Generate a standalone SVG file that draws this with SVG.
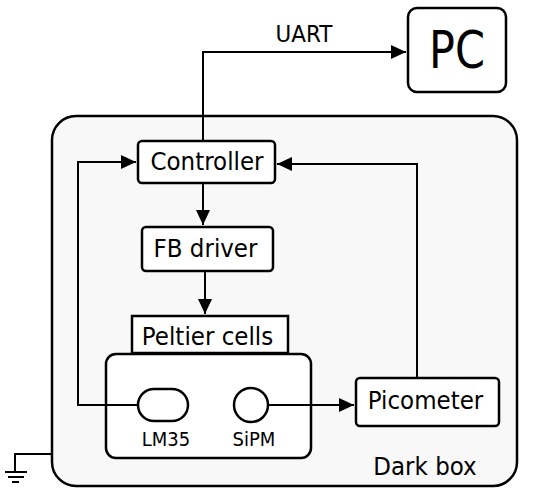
<svg xmlns="http://www.w3.org/2000/svg" width="550" height="492" viewBox="0 0 550 492">
<style>
.box{fill:#fff;stroke:#000;stroke-width:2.5}
.ln{fill:none;stroke:#000;stroke-width:2}
text{font-family:"DejaVu Sans",sans-serif;fill:#000;text-anchor:middle}
.lab{font-size:23px}
.sm{font-size:18px}
</style>
<defs>
<marker id="ah" viewBox="0 0 15 14" refX="15" refY="7" markerWidth="15" markerHeight="14" markerUnits="userSpaceOnUse" orient="auto">
<path d="M0,0 L15,7 L0,14 z" fill="#000"/>
</marker>
</defs>
<rect width="550" height="492" fill="#fff"/>
<g id="darkbox">
<rect x="52" y="116" width="465" height="370" rx="24" fill="#f8f8f8" stroke="#000" stroke-width="2.5"/>
<text class="lab" transform="translate(425,475) scale(1,1.09)">Dark box</text>
</g>
<g id="ground">
<path class="ln" d="M52,454 H15 V472"/>
<path class="ln" d="M5,472 H27 M8,477 H24 M12,482 H19"/>
</g>
<g id="pc">
<rect class="box" x="408" y="8" width="98" height="84" rx="9"/>
<text font-size="43" transform="translate(457,68) scale(1,1.2)">PC</text>
</g>
<g id="controller">
<rect class="box" x="138" y="141" width="137" height="42" rx="4"/>
<text class="lab" transform="translate(207,170) scale(1,1.09)">Controller</text>
</g>
<g id="fbdriver">
<rect class="box" x="142" y="227" width="131" height="44" rx="4"/>
<text class="lab" transform="translate(205.5,257) scale(1,1.09)">FB driver</text>
</g>
<g id="peltier">
<rect class="box" x="132" y="316" width="156" height="37"/>
<text class="lab" transform="translate(207.5,345) scale(1,1.09)">Peltier cells</text>
</g>
<g id="holder">
<rect class="box" x="106" y="354" width="205" height="104" rx="10"/>
</g>
<g id="lm35">
<rect class="box" x="138" y="389" width="50" height="32" rx="16"/>
<text class="sm" transform="translate(166,446) scale(1,1.09)">LM35</text>
</g>
<g id="sipm">
<circle class="box" cx="251" cy="405" r="17"/>
<text class="sm" transform="translate(254,446) scale(1,1.09)">SiPM</text>
</g>
<g id="picometer">
<rect class="box" x="356" y="378" width="143" height="48" rx="4"/>
<text class="lab" transform="translate(425.5,409) scale(1,1.09)">Picometer</text>
</g>
<g id="connectors">
<path class="ln" d="M203,141 V52 H406" marker-end="url(#ah)"/>
<text font-size="21.5" transform="translate(304,42) scale(1,1.1)">UART</text>
<path class="ln" d="M138,405 H78 V162 H136" marker-end="url(#ah)"/>
<path class="ln" d="M417,378 V164 H277" marker-end="url(#ah)"/>
<path class="ln" d="M203,184 V225" marker-end="url(#ah)"/>
<path class="ln" d="M205,272 V314" marker-end="url(#ah)"/>
<path class="ln" d="M268,405 H354" marker-end="url(#ah)"/>
</g>
</svg>
